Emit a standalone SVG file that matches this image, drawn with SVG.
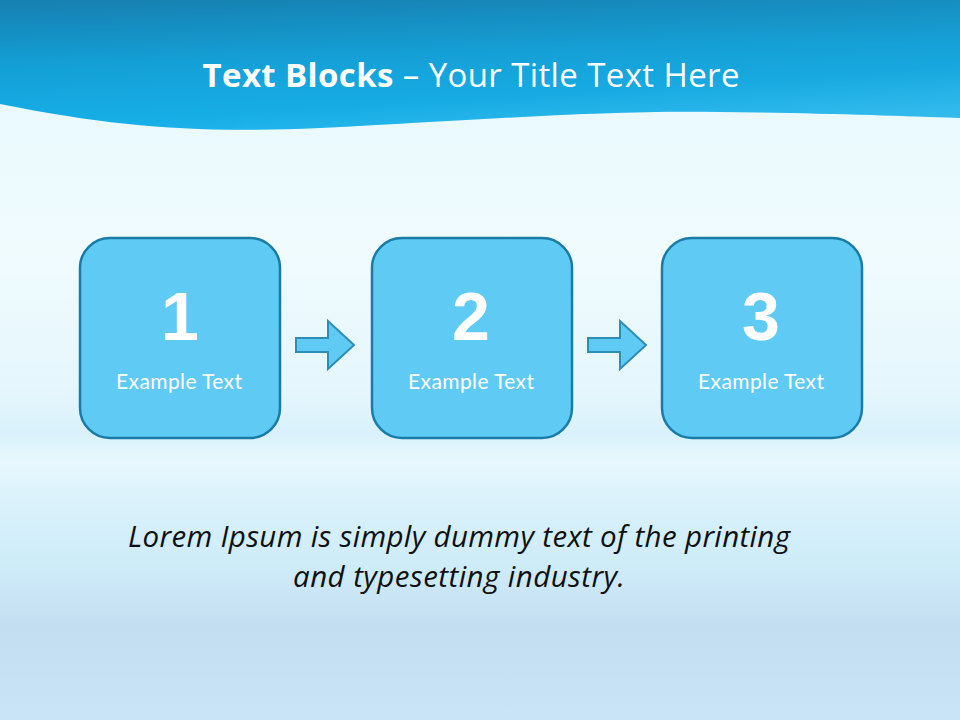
<svg xmlns="http://www.w3.org/2000/svg" width="960" height="720" viewBox="0 0 960 720">
<defs>
<linearGradient id="bg" x1="0" y1="0" x2="0" y2="1">
<stop offset="0" stop-color="#E4F8FD"/>
<stop offset="0.35" stop-color="#F0FBFE"/>
<stop offset="0.55" stop-color="#E4F6FC"/>
<stop offset="0.6" stop-color="#D8F1FB"/>
<stop offset="0.64" stop-color="#E8F8FD"/>
<stop offset="0.68" stop-color="#DDF3FC"/>
<stop offset="0.75" stop-color="#D2EEFA"/>
<stop offset="0.8" stop-color="#CDEAF8"/>
<stop offset="0.87" stop-color="#C4DEF1"/>
<stop offset="1" stop-color="#C8E4F6"/>
</linearGradient>
<linearGradient id="hdr" x1="0" y1="0" x2="0.2" y2="1">
<stop offset="0" stop-color="#1780B0"/>
<stop offset="0.5" stop-color="#129FD6"/>
<stop offset="1" stop-color="#10AEE8"/>
</linearGradient>
<linearGradient id="hdr2" x1="0.5" y1="0" x2="1" y2="1">
<stop offset="0" stop-color="#7FD4F4" stop-opacity="0"/>
<stop offset="0.6" stop-color="#7FD4F4" stop-opacity="0.05"/>
<stop offset="1" stop-color="#7FD4F4" stop-opacity="0.4"/>
</linearGradient>
<style>
.box{fill:#5FCBF4;stroke:#1A7BA6;stroke-width:2.5}
.arr{fill:#5FCBF4;stroke:#2E8DB4;stroke-width:2}
.num{font-family:"Liberation Sans",Arial,sans-serif;font-weight:bold;font-size:68px;fill:#ffffff;text-anchor:middle}
.lbl{font-family:"Lato","Open Sans",sans-serif;font-size:21px;fill:#ffffff;text-anchor:middle}
</style>
</defs>
<rect width="960" height="720" fill="url(#bg)"/>
<path d="M0,104 C120,128 200,133 320,128 C480,120 600,110 720,112 C820,113 900,116 960,118 L960,0 L0,0 Z" fill="url(#hdr)"/>
<path d="M0,104 C120,128 200,133 320,128 C480,120 600,110 720,112 C820,113 900,116 960,118 L960,0 L0,0 Z" fill="url(#hdr2)"/>
<text x="471" y="87" text-anchor="middle" font-family="'Open Sans','Noto Sans',sans-serif" font-size="33" fill="#ffffff" textLength="537"><tspan font-weight="bold">Text Blocks</tspan> – Your Title Text Here</text>
<g id="connectors">
<path class="arr" d="M296,338 L328,338 L328,321 L354,345 L328,369 L328,352 L296,352 Z"/>
<path class="arr" d="M588,338 L620,338 L620,321 L646,345 L620,369 L620,352 L588,352 Z"/>
</g>
<g id="node1">
<rect class="box" x="80" y="238" width="200" height="200" rx="30"/>
<text class="num" x="180" y="340">1</text>
<text class="lbl" x="179" y="389" textLength="126">Example Text</text>
</g>
<g id="node2">
<rect class="box" x="372" y="238" width="200" height="200" rx="30"/>
<text class="num" x="471" y="340">2</text>
<text class="lbl" x="471" y="389" textLength="126">Example Text</text>
</g>
<g id="node3">
<rect class="box" x="662" y="238" width="200" height="200" rx="30"/>
<text class="num" x="761" y="340">3</text>
<text class="lbl" x="761" y="389" textLength="126">Example Text</text>
</g>
<g font-family="'Open Sans','Noto Sans',sans-serif" font-style="italic" font-size="29.5" fill="#111111" text-anchor="middle">
<text x="459" y="547" textLength="662">Lorem Ipsum is simply dummy text of the printing</text>
<text x="459" y="587" textLength="332">and typesetting industry.</text>
</g>
</svg>
